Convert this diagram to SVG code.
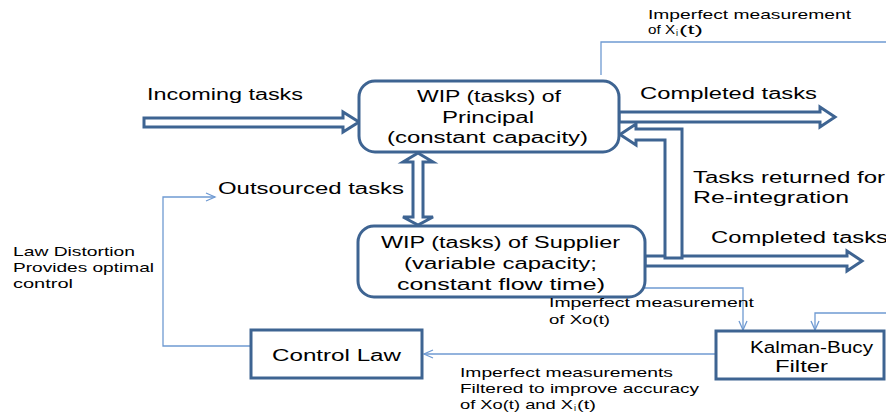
<svg xmlns="http://www.w3.org/2000/svg" width="886" height="415" viewBox="0 0 886 415">
<style>
  .t{font-family:"Liberation Sans","Open Sans",sans-serif;font-size:16px;fill:#000}
  .s{font-family:"Liberation Sans","Open Sans",sans-serif;font-size:13px;fill:#000}
  .box{fill:#fff;stroke:#3E6492;stroke-width:3}
  .fat{fill:#fff;stroke:#3E6492;stroke-width:3;stroke-linejoin:miter}
  .thin{fill:none;stroke:#6F9AD2;stroke-width:1.3}
</style>
<defs>
  <marker id="ah" markerWidth="12" markerHeight="12" refX="10" refY="5" orient="auto" markerUnits="userSpaceOnUse">
    <path d="M1,1 L10,5 L1,9" fill="none" stroke="#6F9AD2" stroke-width="1.3"/>
  </marker>
</defs>
<rect width="886" height="415" fill="#fff"/>

<g id="connectors">
  <polygon class="fat" points="144,118 343,118 343,112 359,122 343,132 343,127 144,127"/>
  <polygon class="fat" points="619,112 820,112 820,107 835,117 820,127 820,122 619,122"/>
  <polygon class="fat" points="645,256 847,256 847,251 862,261 847,271 847,266 645,266"/>
  <polygon class="fat" points="620,134.5 636,124 636,129 682,129 682,258 665,258 665,140 636,140 636,145"/>
  <polygon class="fat" points="418,153 433,162 423,162 423,217 433,217 418,225 403,217 413,217 413,162 403,162"/>
  <polyline class="thin" points="601,75 601,42 886,42"/>
  <polyline class="thin" points="645,288 743,288 743,330" marker-end="url(#ah)"/>
  <polyline class="thin" points="886,313 815,313 815,330" marker-end="url(#ah)"/>
  <line class="thin" x1="716" y1="354" x2="424" y2="354" marker-end="url(#ah)"/>
  <polyline class="thin" points="250,346 163,346 163,197 215,197" marker-end="url(#ah)"/>
</g>

<g id="principal">
  <rect class="box" x="359" y="81" width="260" height="71" rx="16"/>
  <text class="t" x="417" y="102" textLength="144" lengthAdjust="spacingAndGlyphs">WIP (tasks) of</text>
  <text class="t" x="442" y="123" textLength="92" lengthAdjust="spacingAndGlyphs">Principal</text>
  <text class="t" x="387" y="143" textLength="201" lengthAdjust="spacingAndGlyphs">(constant capacity)</text>
</g>

<g id="supplier">
  <rect class="box" x="358" y="226" width="287" height="71" rx="16"/>
  <text class="t" x="381" y="248" textLength="239" lengthAdjust="spacingAndGlyphs">WIP (tasks) of Supplier</text>
  <text class="t" x="404" y="269" textLength="193" lengthAdjust="spacingAndGlyphs">(variable capacity;</text>
  <text class="t" x="397" y="290" textLength="208" lengthAdjust="spacingAndGlyphs">constant flow time)</text>
</g>

<g id="kalman">
  <rect class="box" x="716" y="331" width="168" height="48"/>
  <text class="t" x="750" y="353" textLength="123" lengthAdjust="spacingAndGlyphs">Kalman-Bucy</text>
  <text class="t" x="775" y="372" textLength="53" lengthAdjust="spacingAndGlyphs">Filter</text>
</g>

<g id="control-law">
  <rect class="box" x="251" y="330" width="171" height="48"/>
  <text class="t" x="272" y="361" textLength="129" lengthAdjust="spacingAndGlyphs">Control Law</text>
</g>

<g id="labels">
  <text class="t" x="147" y="100" textLength="156" lengthAdjust="spacingAndGlyphs">Incoming tasks</text>
  <text class="t" x="640" y="99" textLength="177" lengthAdjust="spacingAndGlyphs">Completed tasks</text>
  <text class="t" x="711" y="243" textLength="177" lengthAdjust="spacingAndGlyphs">Completed tasks</text>
  <text class="t" x="693" y="183" textLength="192" lengthAdjust="spacingAndGlyphs">Tasks returned for</text>
  <text class="t" x="693" y="203" textLength="156" lengthAdjust="spacingAndGlyphs">Re-integration</text>
  <text class="t" x="218" y="194" textLength="186" lengthAdjust="spacingAndGlyphs">Outsourced tasks</text>

  <text class="s" x="648" y="19" textLength="203" lengthAdjust="spacingAndGlyphs">Imperfect measurement</text>
  <text class="s" y="34"><tspan x="648" textLength="27" lengthAdjust="spacingAndGlyphs">of X</tspan><tspan x="676" dy="2" font-size="9">i</tspan><tspan x="679" dy="-2" textLength="24" lengthAdjust="spacingAndGlyphs">(t)</tspan></text>

  <text class="s" x="13" y="256" textLength="122" lengthAdjust="spacingAndGlyphs">Law Distortion</text>
  <text class="s" x="13" y="272" textLength="141" lengthAdjust="spacingAndGlyphs">Provides optimal</text>
  <text class="s" x="13" y="288" textLength="60" lengthAdjust="spacingAndGlyphs">control</text>

  <text class="s" x="549" y="307" textLength="205" lengthAdjust="spacingAndGlyphs">Imperfect measurement</text>
  <text class="s" x="549" y="324" textLength="61" lengthAdjust="spacingAndGlyphs">of Xo(t)</text>

  <text class="s" x="460" y="377" textLength="213" lengthAdjust="spacingAndGlyphs">Imperfect measurements</text>
  <text class="s" x="460" y="393" textLength="239" lengthAdjust="spacingAndGlyphs">Filtered to improve accuracy</text>
  <text class="s" y="409"><tspan x="460" textLength="113" lengthAdjust="spacingAndGlyphs">of Xo(t) and X</tspan><tspan x="574" dy="2" font-size="9">i</tspan><tspan x="577" dy="-2" textLength="19" lengthAdjust="spacingAndGlyphs">(t)</tspan></text>
</g>
</svg>
